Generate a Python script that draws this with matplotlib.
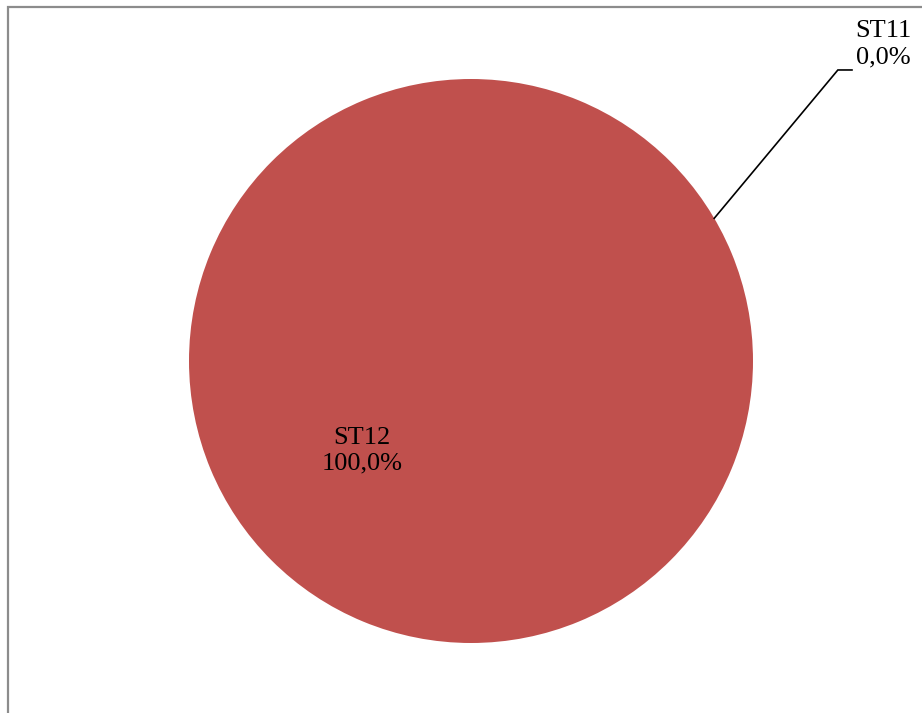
import matplotlib
matplotlib.use("Agg")
import matplotlib.pyplot as plt
import numpy as np
from matplotlib.patches import Rectangle

# data
labels = ["ST11", "ST12"]
values = [0.0, 100.0]
colors = ["#4F81BD", "#C0504D"]

plt.rcParams['font.family'] = ['Liberation Serif', 'DejaVu Serif']

W, H, dpi = 922, 713, 100
fig = plt.figure(figsize=(W / dpi, H / dpi), dpi=dpi)

# pie centre / radius in pixels
cx, cy, rad = 471, 361, 282
ax = fig.add_axes([0, 0, 1, 1])
ax.pie(values, colors=colors, startangle=90, counterclock=False,
       wedgeprops=dict(linewidth=0))
ax.set_aspect('auto')
ax.set_xlim(-cx / rad, (W - cx) / rad)
ax.set_ylim(-(H - cy) / rad, cy / rad)
ax.axis('off')

def fmt(lab, v):
    return f"{lab}\n{v:.1f}%".replace('.', ',')

# label for the big slice, inside
ax.text(-0.387, -0.318, fmt(labels[1], values[1]), ha='center', va='center',
        fontsize=19, linespacing=1.25)

# label for the empty slice with leader line
ang = np.deg2rad(30.4)
p0 = (np.cos(ang), np.sin(ang))
ax.plot([p0[0], 1.301, 1.351], [p0[1], 1.032, 1.032], color='black', lw=1.2,
        solid_joinstyle='miter')
ax.text(1.461, 1.122, fmt(labels[0], values[0]), ha='center', va='center',
        fontsize=19, linespacing=1.25)

# chart area frame (right and bottom fall outside the image)
fig.patches.append(Rectangle((8 / W, -0.05), 1.2, 1 - 7 / H + 0.05,
                             transform=fig.transFigure, fill=False,
                             edgecolor='#8c8c8c', linewidth=1.6))

fig.savefig("out.png", dpi=dpi)
